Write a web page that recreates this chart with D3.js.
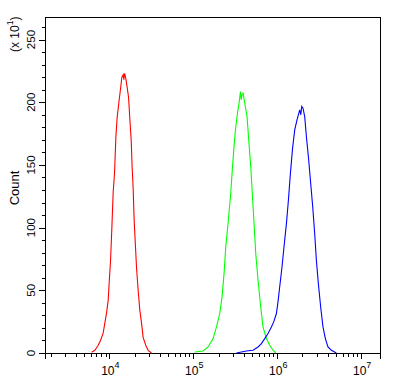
<!DOCTYPE html>
<html>
<head>
<meta charset="utf-8">
<script src="https://cdn.jsdelivr.net/npm/d3@7"></script>
<style>
  html, body { margin: 0; padding: 0; background: #fff; }
  svg { display: block; }
  text { font-family: "Liberation Sans", Arial, sans-serif; fill: #000; }
</style>
</head>
<body>
<svg id="chart" width="400" height="380"></svg>
<script>
// ---- data (counts in units of x10) ----
const redX = [6140, 6710, 7360, 7850, 8440, 8840, 9260, 9680, 9950, 10330, 10710, 11100, 11530, 11950, 12390, 13090, 13600, 14090, 14600, 14880, 15170, 15600, 16030, 16930, 17550, 18190, 18680, 19190, 19730, 20500, 21070, 22030, 23070, 24160, 25240, 27220, 28970, 31770];
const redY = [0.6, 2.2, 6.2, 10, 16, 24, 32, 42, 56, 74, 100, 128, 144, 172, 188, 202, 211, 220, 222, 218, 223, 220, 215, 204, 186, 170, 148, 132, 106, 84, 68, 50, 34, 24, 12.5, 6, 2, 0];
const greenX = [104200, 130900, 150100, 172200, 188900, 206700, 220200, 232600, 243700, 259500, 277300, 289700, 303600, 317900, 335800, 351000, 364700, 372000, 381100, 391800, 410500, 436700, 457800, 483800, 507300, 529800, 554800, 590800, 636200, 677300, 743000, 814300, 891500, 959700];
const greenY = [0.8, 1.6, 4.8, 11.5, 20.8, 31.5, 44.8, 63.5, 84.6, 103.3, 124.6, 143.3, 162, 178, 191.2, 199.2, 208.5, 202, 205.9, 207.2, 199.2, 188.5, 170, 148.6, 124.6, 103.3, 79.3, 58, 36.7, 20.8, 11.5, 6.2, 2.2, 0];
const blueX = [326700, 429400, 514800, 590800, 648000, 709600, 776600, 852300, 908300, 977800, 1022000, 1071000, 1141000, 1205000, 1288000, 1360000, 1436000, 1517000, 1616000, 1721000, 1854000, 1910000, 1959000, 2029000, 2126000, 2228000, 2372000, 2506000, 2648000, 2795000, 2928000, 3093000, 3294000, 3512000, 3747000, 4025000, 4419000, 5070000];
const blueY = [0, 1.6, 2.2, 4.8, 7.5, 11.5, 15.5, 20.8, 24.8, 31.5, 40.8, 52.8, 68.8, 84.8, 103.4, 122, 143.3, 162, 178, 185.9, 193.9, 190, 196.6, 195.3, 188.5, 172.5, 153.9, 135.2, 116.6, 95.3, 74, 55.3, 36.7, 20.8, 11.5, 4.8, 2.2, 0];
const xMajorTicks = [1e4, 1e5, 1e6, 1e7];
const xTickExponents = ["4", "5", "6", "7"];
const yMajorTicks = [0, 50, 100, 150, 200, 250];
const yLabel = "Count";
const yMultiplierBase = "(x 10";
const yMultiplierExp = "1";

// ---- layout ----
const svg = d3.select("#chart");
const L = 45, R = 380, T = 17, B = 353;
const x = d3.scaleLog().domain([1710, 16777216]).range([L, R]);
const y = d3.scaleLinear().domain([0, 268]).range([B, T]);

// minor ticks
const xMinor = [];
for (let e = 3; e <= 7; e++) {
  for (let k = 2; k <= 9; k++) {
    const v = k * Math.pow(10, e);
    if (v > x.domain()[0] && v < x.domain()[1]) xMinor.push(v);
  }
}
const yMinor = d3.range(0, 261, 10).filter(v => v % 50 !== 0);

const g = svg.append("g").attr("shape-rendering", "crispEdges");

// frame
g.append("rect").attr("x", L + 0.5).attr("y", T + 0.5)
  .attr("width", R - L).attr("height", B - T)
  .attr("fill", "none").attr("stroke", "#000").attr("stroke-width", 1);

// frame legs below axis
[L, R].forEach(px => {
  g.append("line").attr("x1", px + 0.5).attr("x2", px + 0.5)
    .attr("y1", B).attr("y2", B + 6).attr("stroke", "#000");
});

// x ticks
g.selectAll(".xmin").data(xMinor).enter().append("line")
  .attr("x1", d => Math.round(x(d)) + 0.5).attr("x2", d => Math.round(x(d)) + 0.5)
  .attr("y1", B).attr("y2", B + 4).attr("stroke", "#000");
g.selectAll(".xmaj").data(xMajorTicks).enter().append("line")
  .attr("x1", d => Math.round(x(d)) + 0.5).attr("x2", d => Math.round(x(d)) + 0.5)
  .attr("y1", B).attr("y2", B + 6).attr("stroke", "#000");

// y ticks
g.selectAll(".ymin").data(yMinor).enter().append("line")
  .attr("x1", L - 3.5).attr("x2", L)
  .attr("y1", d => Math.round(y(d)) + 0.5).attr("y2", d => Math.round(y(d)) + 0.5)
  .attr("stroke", "#000");
g.selectAll(".ymaj").data(yMajorTicks).enter().append("line")
  .attr("x1", L - 6).attr("x2", L)
  .attr("y1", d => Math.round(y(d)) + 0.5).attr("y2", d => Math.round(y(d)) + 0.5)
  .attr("stroke", "#000");

// x tick labels
xMajorTicks.forEach((v, i) => {
  const t = svg.append("text").attr("x", x(v) + 1).attr("y", 375)
    .attr("text-anchor", "middle").attr("font-size", 12);
  t.append("tspan").text("10");
  t.append("tspan").attr("dy", -7).attr("font-size", 9).text(xTickExponents[i]);
});

// y tick labels
yMajorTicks.forEach(v => {
  svg.append("text")
    .attr("transform", `translate(35,${y(v)}) rotate(-90)`)
    .attr("text-anchor", "middle").attr("font-size", 11.5)
    .text(v);
});

// axis title
svg.append("text")
  .attr("transform", `translate(18.5,${188}) rotate(-90)`)
  .attr("text-anchor", "middle").attr("font-size", 13)
  .text(yLabel);

// multiplier
const m = svg.append("text")
  .attr("transform", `translate(18.5,52) rotate(-90)`)
  .attr("text-anchor", "start").attr("font-size", 12);
m.append("tspan").text(yMultiplierBase);
m.append("tspan").attr("dy", -6).attr("font-size", 8.5).text(yMultiplierExp);
m.append("tspan").attr("dy", 6).text(")");

// histograms
const line = d3.line().x(d => x(d[0])).y(d => y(d[1])).curve(d3.curveLinear);
const series = [
  { xs: redX, ys: redY, color: "#ff0000" },
  { xs: greenX, ys: greenY, color: "#00ff00" },
  { xs: blueX, ys: blueY, color: "#0000ff" }
];
series.forEach(s => {
  svg.append("path")
    .datum(s.xs.map((v, i) => [v, s.ys[i]]))
    .attr("fill", "none").attr("stroke", s.color).attr("stroke-width", 1.1)
    .attr("d", line);
});
</script>
</body>
</html>
